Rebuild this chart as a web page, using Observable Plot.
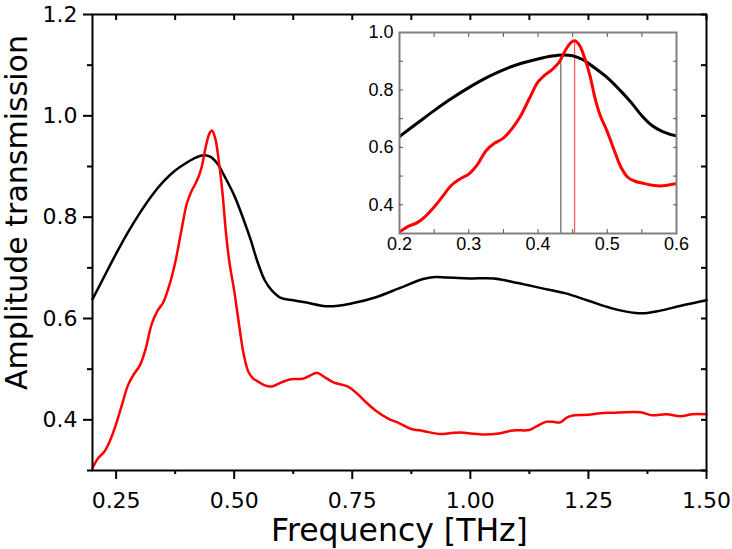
<!DOCTYPE html>
<html>
<head>
<meta charset="utf-8">
<script src="https://cdn.jsdelivr.net/npm/d3@7"></script>
<script src="https://cdn.jsdelivr.net/npm/@observablehq/plot@0.6"></script>
<style>
  body { margin: 0; background: #fff; }
  #wrap { position: relative; width: 732px; height: 549px; overflow: hidden; }
  #inset { position: absolute; left: 349px; top: 22px; }
</style>
</head>
<body>
<div id="wrap"></div>
<script>
// ---- Data ----
const freqBlack = [0.20, 0.225, 0.25, 0.275, 0.30, 0.325, 0.35, 0.375, 0.40, 0.42, 0.435, 0.45, 0.465, 0.48, 0.50, 0.52, 0.535, 0.55, 0.565, 0.58, 0.60, 0.625, 0.65, 0.70, 0.75, 0.80, 0.85, 0.90, 0.925, 0.95, 1.00, 1.05, 1.10, 1.15, 1.20, 1.25, 1.30, 1.35, 1.375, 1.40, 1.45, 1.50];
const ampBlack  = [0.638, 0.683, 0.728, 0.770, 0.808, 0.842, 0.870, 0.892, 0.908, 0.918, 0.922, 0.919, 0.905, 0.880, 0.843, 0.795, 0.755, 0.710, 0.675, 0.655, 0.640, 0.636, 0.632, 0.624, 0.630, 0.642, 0.660, 0.678, 0.682, 0.681, 0.679, 0.679, 0.670, 0.660, 0.650, 0.635, 0.620, 0.611, 0.611, 0.615, 0.626, 0.636];

const freqRed = [0.200, 0.2125, 0.225, 0.2375, 0.25, 0.2625, 0.275, 0.2875, 0.30, 0.3125, 0.325, 0.3375, 0.35, 0.3625, 0.375, 0.3875, 0.40, 0.41, 0.42, 0.43, 0.44, 0.4475, 0.453, 0.46, 0.4675, 0.475, 0.4825, 0.49, 0.50, 0.51, 0.52, 0.53, 0.54, 0.55, 0.565, 0.58, 0.60, 0.62, 0.645, 0.66, 0.675, 0.69, 0.71, 0.74, 0.76, 0.78, 0.80, 0.825, 0.85, 0.875, 0.90, 0.935, 0.96, 0.98, 1.00, 1.03, 1.06, 1.09, 1.125, 1.14, 1.16, 1.175, 1.19, 1.205, 1.22, 1.25, 1.275, 1.30, 1.36, 1.385, 1.415, 1.445, 1.47, 1.50];
const ampRed  = [0.305, 0.325, 0.337, 0.360, 0.392, 0.430, 0.468, 0.490, 0.507, 0.540, 0.588, 0.615, 0.632, 0.665, 0.710, 0.770, 0.828, 0.852, 0.870, 0.895, 0.940, 0.965, 0.971, 0.955, 0.910, 0.850, 0.770, 0.710, 0.655, 0.590, 0.530, 0.495, 0.482, 0.476, 0.468, 0.466, 0.474, 0.480, 0.481, 0.487, 0.493, 0.485, 0.474, 0.466, 0.452, 0.434, 0.418, 0.403, 0.393, 0.382, 0.378, 0.372, 0.374, 0.375, 0.373, 0.371, 0.373, 0.379, 0.380, 0.387, 0.396, 0.396, 0.395, 0.405, 0.409, 0.410, 0.413, 0.414, 0.415, 0.409, 0.411, 0.407, 0.411, 0.411];

// peak markers shown in the inset
const peakFreqs = [0.433, 0.453];
const peakAmps  = [0.922, 0.971];
const peakColors = ["#444444", "#ff3030"];

// main axes
const xDomain = [0.2, 1.5];
const yDomain = [0.3, 1.2];
const xMajorTicks = [0.25, 0.5, 0.75, 1.0, 1.25, 1.5];
const xTickLabels = ["0.25", "0.50", "0.75", "1.00", "1.25", "1.50"];
const xMinorTicks = [0.375, 0.625, 0.875, 1.125, 1.375];
const yMajorTicks = [0.4, 0.6, 0.8, 1.0, 1.2];
const yTickLabels = ["0.4", "0.6", "0.8", "1.0", "1.2"];
const yMinorTicks = [0.3, 0.5, 0.7, 0.9, 1.1];
const xTitle = "Frequency [THz]";
const yTitle = "Amplitude transmission";

// inset axes
const insetXDomain = [0.2, 0.6];
const insetYDomain = [0.3, 1.0];
const insetXTicks = [0.2, 0.3, 0.4, 0.5, 0.6];
const insetXLabels = ["0.2", "0.3", "0.4", "0.5", "0.6"];
const insetXMinor = [0.25, 0.3, 0.35, 0.4, 0.45, 0.5, 0.55];
const insetYTicks = [0.4, 0.6, 0.8, 1.0];
const insetYLabels = ["0.4", "0.6", "0.8", "1.0"];
const insetYMinor = [0.4, 0.5, 0.6, 0.7, 0.8, 0.9];

// ---- tables ----
const black = freqBlack.map((f, i) => ({f, a: ampBlack[i]}));
const red = freqRed.map((f, i) => ({f, a: ampRed[i]}));
const peaks = peakFreqs.map((f, i) => ({f, a: peakAmps[i], c: peakColors[i]}));
const allX = [...xMajorTicks, ...xMinorTicks].sort((a, b) => a - b);
const allY = [...yMajorTicks, ...yMinorTicks].sort((a, b) => a - b);
const xLab = new Map(xMajorTicks.map((t, i) => [t, xTickLabels[i]]));
const yLab = new Map(yMajorTicks.map((t, i) => [t, yTickLabels[i]]));
const ixLab = new Map(insetXTicks.map((t, i) => [t, insetXLabels[i]]));
const iyLab = new Map(insetYTicks.map((t, i) => [t, insetYLabels[i]]));
const none = () => "";

const main = Plot.plot({
  width: 732, height: 549,
  marginLeft: 92, marginRight: 26, marginTop: 14, marginBottom: 79,
  x: {domain: xDomain},
  y: {domain: yDomain},
  style: {fontFamily: "DejaVu Sans", background: "transparent", color: "black"},
  marks: [
    Plot.line(black, {x: "f", y: "a", stroke: "black", strokeWidth: 2.5, curve: "catmull-rom"}),
    Plot.line(red, {x: "f", y: "a", stroke: "#ff0000", strokeWidth: 2.5, curve: "catmull-rom"}),
    Plot.frame({stroke: "black", strokeWidth: 2}),
    Plot.axisX(xMajorTicks, {anchor: "bottom", tickSize: 9, tickPadding: 13, strokeWidth: 2, fontSize: 22, tickFormat: d => xLab.get(d), label: null}),
    Plot.axisX(xMinorTicks, {anchor: "bottom", tickSize: 4, strokeWidth: 2, tickFormat: none, label: null}),
    Plot.axisX(allX, {anchor: "top", tickSize: -5, strokeWidth: 2, tickFormat: none, label: null}),
    Plot.axisY(yMajorTicks, {anchor: "left", tickSize: 9, tickPadding: 6, strokeWidth: 2, fontSize: 22, tickFormat: d => yLab.get(d), label: null}),
    Plot.axisY(yMinorTicks, {anchor: "left", tickSize: 5, strokeWidth: 2, tickFormat: none, label: null}),
    Plot.axisY(allY, {anchor: "right", tickSize: -6, strokeWidth: 2, tickFormat: none, label: null}),
    Plot.text([xTitle], {text: d => d, frameAnchor: "bottom", textAnchor: "middle", lineAnchor: "middle", dy: 60, fontSize: 31.5}),
    Plot.text([yTitle], {text: d => d, frameAnchor: "left", textAnchor: "middle", lineAnchor: "middle", rotate: -90, dx: -75, dy: -30, fontSize: 30})
  ]
});

const inset = Plot.plot({
  width: 347, height: 236,
  marginLeft: 50, marginRight: 20, marginTop: 10, marginBottom: 25,
  x: {domain: insetXDomain},
  y: {domain: insetYDomain},
  style: {fontFamily: "Liberation Sans, Arial, sans-serif", background: "transparent", color: "black"},
  marks: [
    Plot.ruleX(peaks, {x: "f", y1: insetYDomain[0], y2: "a", stroke: "c", strokeWidth: 1}),
    Plot.line(black, {x: "f", y: "a", stroke: "black", strokeWidth: 3, curve: "catmull-rom", clip: true}),
    Plot.line(red, {x: "f", y: "a", stroke: "#ff0000", strokeWidth: 3, curve: "catmull-rom", clip: true}),
    Plot.frame({stroke: "#808080", strokeWidth: 2}),
    Plot.axisX(insetXTicks, {anchor: "bottom", tickSize: 0, tickPadding: 4, fontSize: 18, tickFormat: d => ixLab.get(d), label: null}),
    Plot.axisX(insetXMinor, {anchor: "bottom", tickSize: -4, stroke: "#555", tickFormat: none, label: null}),
    Plot.axisX(insetXMinor, {anchor: "top", tickSize: -4, stroke: "#555", tickFormat: none, label: null}),
    Plot.axisY(insetYTicks, {anchor: "left", tickSize: 0, tickPadding: 6, fontSize: 18, tickFormat: d => iyLab.get(d), label: null}),
    Plot.axisY(insetYMinor, {anchor: "left", tickSize: -4, stroke: "#555", tickFormat: none, label: null}),
    Plot.axisY(insetYMinor, {anchor: "right", tickSize: -4, stroke: "#555", tickFormat: none, label: null})
  ]
});

const wrap = document.getElementById("wrap");
wrap.appendChild(main);
const holder = document.createElement("div");
holder.id = "inset";
holder.appendChild(inset);
wrap.appendChild(holder);
</script>
</body>
</html>
